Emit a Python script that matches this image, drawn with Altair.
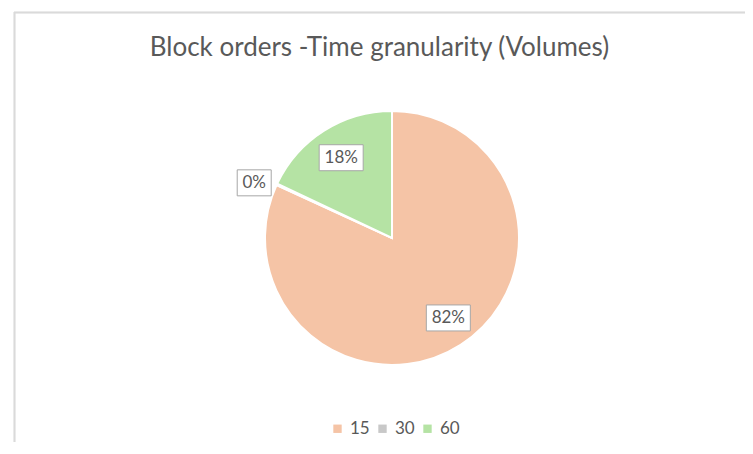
import altair as alt
import pandas as pd

categories = ["15", "30", "60"]
values = [82.0, 0.2, 18.0]
order = [1, 2, 3]
colors = ["#F5C4A6", "#C8C8C8", "#B5E3A4"]

df = pd.DataFrame({"cat": categories, "value": values, "ord": order})

W, H = 731, 430
CX, CY = 378, 226  # pie centre inside the view (pixels)
R = 127

base = alt.Chart(df)

color_enc = alt.Color(
    "cat:N",
    scale=alt.Scale(domain=categories, range=colors),
    legend=alt.Legend(
        title=None,
        orient="none",
        direction="horizontal",
        legendX=315,
        legendY=408,
        symbolType="square",
        symbolSize=70,
        symbolStrokeWidth=0,
        labelFontSize=17,
        labelColor="#595959",
        labelFont="Lato",
        columnPadding=4,
        labelOffset=4,
    ),
)

pie = base.mark_arc(radius=R, stroke="white", strokeWidth=2).encode(
    theta=alt.Theta("value:Q", stack=True),
    color=color_enc,
    order=alt.Order("ord:Q"),
    x=alt.value(CX),
    y=alt.value(CY),
)

xs = alt.Scale(domain=[-CX, W - CX], nice=False, zero=False)
ys = alt.Scale(domain=[CY - H, CY], nice=False, zero=False)

lab = base.transform_joinaggregate(total="sum(value)").transform_window(
    cum="sum(value)", sort=[alt.SortField("ord")], frame=[None, 0]
).transform_calculate(
    mid="(datum.cum - datum.value / 2) / datum.total * 2 * PI",
    lr="datum.value / datum.total < 0.03 ? 152 : 95",
    label="format(datum.value / datum.total, '.0%')",
).transform_calculate(
    lx="datum.lr * sin(datum.mid) + (datum.lr < 100 && sin(datum.mid) > 0 ? 5 : 0)",
    ly="datum.lr * cos(datum.mid) - (datum.lr > 100 ? 9 : 0)",
    hw="7 + 5 * length(datum.label)",
).transform_calculate(
    x1="datum.lx - datum.hw",
    x2="datum.lx + datum.hw",
    y1="datum.ly - 13",
    y2="datum.ly + 13",
)

boxes = lab.mark_rect(fill="white", stroke="#A6A6A6", strokeWidth=1).encode(
    x=alt.X("x1:Q", scale=xs, axis=None),
    x2="x2:Q",
    y=alt.Y("y1:Q", scale=ys, axis=None),
    y2="y2:Q",
)

texts = lab.mark_text(fontSize=17, color="#595959", font="Lato").encode(
    x=alt.X("lx:Q", scale=xs, axis=None),
    y=alt.Y("ly:Q", scale=ys, axis=None),
    text="label:N",
)

frame_left = alt.Chart(df).mark_rule(color="#DADADA", strokeWidth=1.5).encode(
    x=alt.value(0.5), y=alt.value(0), y2=alt.value(H)
)
frame_top = alt.Chart(df).mark_rule(color="#DADADA", strokeWidth=1.5).encode(
    x=alt.value(0), x2=alt.value(W), y=alt.value(0.5)
)

chart = alt.layer(frame_left, frame_top, pie, boxes, texts).properties(
    width=W,
    height=H,
    padding={"left": 6, "top": 4, "right": 0, "bottom": 0},
    autosize=alt.AutoSizeParams(type="none"),
    title=alt.TitleParams(
        "Block orders -Time granularity (Volumes)",
        fontSize=26,
        font="Lato",
        fontWeight="normal",
        color="#595959",
        anchor="middle",
        offset=-50,
    ),
).configure_view(stroke=None).configure_axis(grid=False)

chart.save("out.html", embed_options={"renderer": "svg", "actions": False})
